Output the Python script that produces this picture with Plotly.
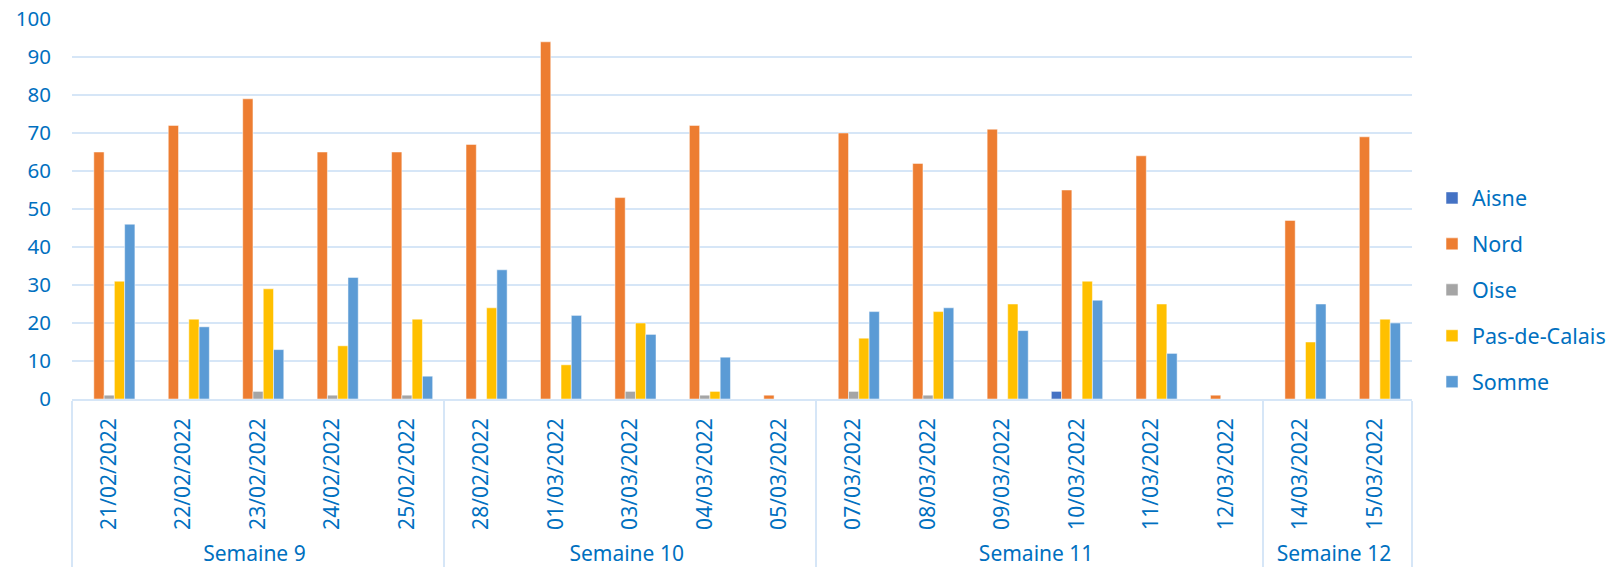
import plotly.graph_objects as go

dates = ["21/02/2022", "22/02/2022", "23/02/2022", "24/02/2022", "25/02/2022",
         "28/02/2022", "01/03/2022", "03/03/2022", "04/03/2022", "05/03/2022",
         "07/03/2022", "08/03/2022", "09/03/2022", "10/03/2022", "11/03/2022", "12/03/2022",
         "14/03/2022", "15/03/2022"]
weeks = ["Semaine 9"] * 5 + ["Semaine 10"] * 5 + ["Semaine 11"] * 6 + ["Semaine 12"] * 2

aisne = [0, 0, 0, 0, 0, 0, 0, 0, 0, 0, 0, 0, 0, 2, 0, 0, 0, 0]
nord = [65, 72, 79, 65, 65, 67, 94, 53, 72, 1, 70, 62, 71, 55, 64, 1, 47, 69]
oise = [1, 0, 2, 1, 1, 0, 0, 2, 1, 0, 2, 1, 0, 0, 0, 0, 0, 0]
pas_de_calais = [31, 21, 29, 14, 21, 24, 9, 20, 2, 0, 16, 23, 25, 31, 25, 0, 15, 21]
somme = [46, 19, 13, 32, 6, 34, 22, 17, 11, 0, 23, 24, 18, 26, 12, 0, 25, 20]

series = [
    ("Aisne", aisne, "#4472C4"),
    ("Nord", nord, "#ED7D31"),
    ("Oise", oise, "#A5A5A5"),
    ("Pas-de-Calais", pas_de_calais, "#FFC000"),
    ("Somme", somme, "#5B9BD5"),
]

text_color = "#0070C0"
grid_color = "#D6E6F7"

fig = go.Figure()
for name, vals, color in series:
    fig.add_trace(go.Bar(
        x=[weeks, dates], y=vals, name=name,
        marker=dict(color=color, line=dict(color="white", width=0.5)),
        legendgroup=name,
    ))

fig.update_layout(
    width=1613, height=576,
    margin=dict(l=72, r=201, t=19, b=177),
    paper_bgcolor="white", plot_bgcolor="white",
    barmode="group", bargap=0.31, bargroupgap=0,
    font=dict(family="Noto Sans", size=21, color=text_color),
    legend=dict(xref="container", x=0.8878, xanchor="left",
                y=0.287, yanchor="middle",
                tracegroupgap=15, font=dict(size=21.5, color=text_color),
                itemwidth=30, borderwidth=0),
    showlegend=True,
)
fig.update_yaxes(range=[0, 100], dtick=10, showgrid=True, gridcolor=grid_color,
                 gridwidth=1.5, zeroline=False, showline=False, automargin=False,
                 tickfont=dict(size=20.5, color=text_color), ticks="", ticklabelstandoff=20)
fig.update_xaxes(type="multicategory", tickangle=-90, showline=True, linecolor=grid_color,
                 linewidth=1.5, showdividers=True, dividercolor=grid_color, dividerwidth=1.5,
                 automargin=False, ticklabelstandoff=9,
                 tickfont=dict(size=21, color=text_color), ticks="")

fig.write_html("out.html", config={"displayModeBar": False},
               post_script="document.body.style.margin='0';")
